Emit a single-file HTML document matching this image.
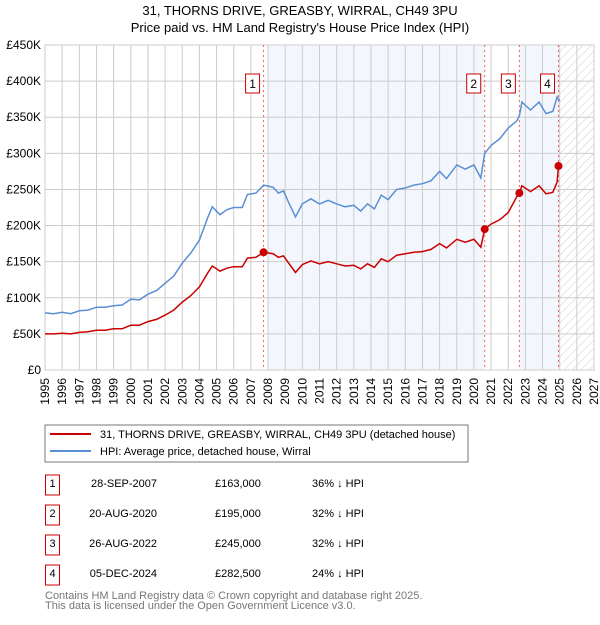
<!DOCTYPE html>
<html><head><meta charset="utf-8"><style>
body{margin:0;background:#fff;font-family:"Liberation Sans",sans-serif;}
svg text{font-family:"Liberation Sans",sans-serif;}
</style></head><body>
<svg id="c" width="600" height="620" viewBox="0 0 600 620" xmlns="http://www.w3.org/2000/svg">
<defs><pattern id="hatch" width="6" height="6" patternUnits="userSpaceOnUse" patternTransform="rotate(45)"><line x1="0" y1="0" x2="0" y2="6" stroke="#ccc" stroke-width="1"/></pattern></defs>
<text x="300" y="15" text-anchor="middle" font-size="13">31, THORNS DRIVE, GREASBY, WIRRAL, CH49 3PU</text>
<text x="300" y="32" text-anchor="middle" font-size="13">Price paid vs. HM Land Registry's House Price Index (HPI)</text>
<g id="plot"></g>
<g>
<rect x="45" y="425" width="423" height="37" fill="#fff" stroke="#777" stroke-width="1"/>
<line x1="50" y1="434" x2="91" y2="434" stroke="#cc0000" stroke-width="2"/>
<text x="100" y="438" font-size="11">31, THORNS DRIVE, GREASBY, WIRRAL, CH49 3PU (detached house)</text>
<line x1="50" y1="451" x2="91" y2="451" stroke="#5b8fd4" stroke-width="2"/>
<text x="100" y="455" font-size="11">HPI: Average price, detached house, Wirral</text>
</g>
<g id="tbl"></g>
<text x="45" y="599" font-size="11" fill="#777">Contains HM Land Registry data © Crown copyright and database right 2025.</text>
<text x="45" y="609" font-size="11" fill="#777">This data is licensed under the Open Government Licence v3.0.</text>
</svg>
<script>
const hpiYears=[1995,1995.5,1996,1996.5,1997,1997.5,1998,1998.5,1999,1999.5,2000,2000.5,2001,2001.5,2002,2002.5,2003,2003.5,2004,2004.5,2004.75,2005.2,2005.6,2006,2006.5,2006.8,2007.3,2007.74,2008.3,2008.6,2008.9,2009.2,2009.6,2010,2010.5,2011,2011.5,2012,2012.5,2013,2013.4,2013.8,2014.2,2014.6,2015,2015.5,2016,2016.5,2017,2017.5,2018,2018.4,2019,2019.5,2020,2020.4,2020.63,2021,2021.5,2022,2022.5,2022.65,2022.8,2023.3,2023.8,2024.2,2024.6,2024.85,2024.93,2025];
const hpiValues=[79,78,80,78,82,83,87,87,89,90,98,97,105,110,120,130,148,162,180,212,226,215,222,225,225,243,245,256,253,245,248,232,212,230,237,230,235,230,226,228,220,230,223,242,236,250,252,256,258,262,275,265,284,278,284,266,300,311,320,335,345,352,371,360,371,355,358,378,375,373];
const priceValues=[50,50,51,50,52,53,55,55,57,57,62,62,67,70,76,83,94,103,115,135,144,137,141,143,143,155,156,163,161,156,158,148,135,146,151,147,150,147,144,145,140,147,142,154,150,159,161,163,164,167,175,169,181,177,181,170,195,202,208,218,240,245,255,247,255,244,246,260,282.5,281];
const saleYears=[2007.74,2020.63,2022.65,2024.93];
const salePrices=[163,195,245,282.5];
const saleDates=["28-SEP-2007","20-AUG-2020","26-AUG-2022","05-DEC-2024"];
const saleLabels=["£163,000","£195,000","£245,000","£282,500"];
const saleHpi=["36% ↓ HPI","32% ↓ HPI","32% ↓ HPI","24% ↓ HPI"];
const yTicks=[0,50,100,150,200,250,300,350,400,450];
const yTickLabels=["£0","£50K","£100K","£150K","£200K","£250K","£300K","£350K","£400K","£450K"];
const xTicks=[1995,1996,1997,1998,1999,2000,2001,2002,2003,2004,2005,2006,2007,2008,2009,2010,2011,2012,2013,2014,2015,2016,2017,2018,2019,2020,2021,2022,2023,2024,2025,2026,2027];

const L=45,R=594,T=45,B=370;
const xS=v=>L+(v-1995)/(2027-1995)*(R-L);
const yS=v=>B-v/450*(B-T);
const NS="http://www.w3.org/2000/svg";
const plot=document.getElementById('plot');
function mk(tag,attrs,parent){const e=document.createElementNS(NS,tag);for(const k in attrs)e.setAttribute(k,attrs[k]);(parent||plot).appendChild(e);return e;}

let e;
e=mk('rect',{x:L,y:T,width:R-L,height:B-T,fill:'#fff'});


e=mk('rect',{x:xS(2008),y:T,width:xS(saleYears[1])-xS(2008),height:B-T,fill:'#eef3fc',opacity:0.7});


e=mk('rect',{x:xS(saleYears[2]),y:T,width:xS(2025)-xS(saleYears[2]),height:B-T,fill:'#eef3fc',opacity:0.7});


e=mk('rect',{x:xS(2025),y:T,width:R-xS(2025),height:B-T,fill:'url(#hatch)'});



yTicks.forEach((t,i)=>{
 e=mk('line',{x1:L,x2:R,y1:yS(t),y2:yS(t),stroke:'#ccc','stroke-width':1});
 
 
 e=mk('text',{x:L-4,y:yS(t)+4,'text-anchor':'end','font-size':12});
 e.textContent=yTickLabels[i];
 
 
});
xTicks.forEach(t=>{
 e=mk('line',{x1:xS(t),x2:xS(t),y1:T,y2:B,stroke:'#ccc','stroke-width':1});
 
 
 const tx=xS(t)+4, ty=378;
 e=mk('text',{x:tx,y:ty,'text-anchor':'end','font-size':12,transform:'rotate(-90 '+tx+' '+ty+')'});
 e.textContent=t;
 
 
});
e=mk('rect',{x:L,y:T,width:R-L,height:B-T,fill:'none',stroke:'#ccc'});



saleYears.forEach((s,i)=>{
 e=mk('line',{x1:xS(s),x2:xS(s),y1:T,y2:B,stroke:'#f06060','stroke-width':1,'stroke-dasharray':'2,3'});
 
 
 e=mk('rect',{x:xS(s)-18,y:74,width:14,height:19,fill:'#fff',stroke:'#cc0000'});
 
 
 e=mk('text',{x:xS(s)-11,y:88,'text-anchor':'middle','font-size':12});
 e.textContent=i+1;
 
 
});

const pts=(vals)=>hpiYears.map((y,i)=>xS(y).toFixed(1)+','+yS(vals[i]).toFixed(1)).join(' ');
e=mk('polyline',{points:pts(hpiValues),fill:'none',stroke:'#5b8fd4','stroke-width':1.5});


e=mk('polyline',{points:pts(priceValues),fill:'none',stroke:'#cc0000','stroke-width':1.5});


saleYears.forEach((s,i)=>{
 e=mk('circle',{cx:xS(s),cy:yS(salePrices[i]),r:4,fill:'#cc0000'});
 
 
});

const tbl=document.getElementById('tbl');
saleDates.forEach((d,i)=>{
 const y=483+i*30;
 e=mk('rect',{x:45.5,y:y-8,width:14,height:20,fill:'#fff',stroke:'#cc0000'},tbl);
 
 
 e=mk('text',{x:52.5,y:y+4,'text-anchor':'middle','font-size':11},tbl);e.textContent=i+1;
 
 
 e=mk('text',{x:157,y:y+4,'text-anchor':'end','font-size':11},tbl);e.textContent=d;
 
 
 e=mk('text',{x:215,y:y+4,'font-size':11},tbl);e.textContent=saleLabels[i];
 
 
 e=mk('text',{x:312,y:y+4,'font-size':11},tbl);e.textContent=saleHpi[i];
 
 
});
</script>
</body></html>
